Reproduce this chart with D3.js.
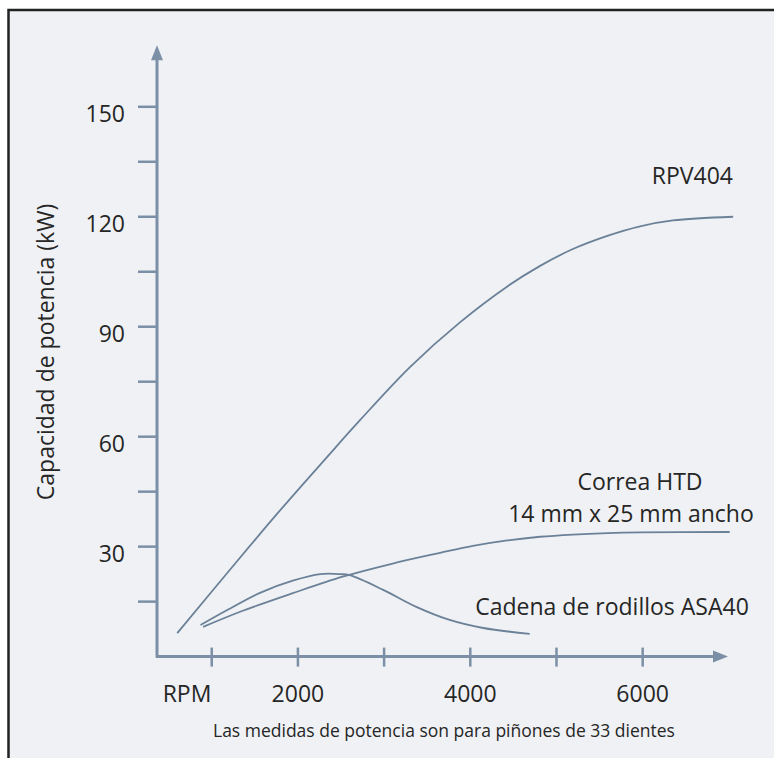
<!DOCTYPE html>
<html>
<head>
<meta charset="utf-8">
<script src="https://cdn.jsdelivr.net/npm/d3@7"></script>
<style>
  html, body { margin:0; padding:0; background:#ffffff; }
  svg { display:block; }
  text { font-family:"Open Sans", sans-serif; fill:#262626; }
</style>
</head>
<body>
<div class="chart"></div>
<script>
// RPV404
var rpvRpm = [600, 1180, 1760, 2340, 2720, 3300, 3880, 4430, 4810, 5190, 5590, 5970, 6350, 7050];
var rpvKw  = [6.4, 22.8, 39.0, 54.5, 64.5, 79.0, 91.2, 101.0, 106.6, 111.2, 114.8, 117.4, 119.0, 120.0];
// Correa HTD 14 mm x 25 mm
var htdRpm = [900, 1360, 1940, 2520, 3100, 3650, 4030, 4430, 4810, 5190, 5590, 5970, 7010];
var htdKw  = [8.1, 12.5, 17.3, 21.8, 25.4, 28.3, 30.2, 31.7, 32.7, 33.3, 33.7, 33.9, 34.0];
// Cadena de rodillos ASA40
var asaRpm = [870, 1180, 1560, 1940, 2260, 2490, 2600, 2990, 3380, 3760, 4150, 4690];
var asaKw  = [8.6, 12.7, 17.4, 20.7, 22.5, 22.5, 22.2, 18.2, 13.5, 10.0, 7.8, 6.2];

var xTicks = [1000, 2000, 3000, 4000, 5000, 6000];
var xTickLabels = [2000, 4000, 6000];
var yTicks = [15, 30, 45, 60, 75, 90, 105, 120, 135, 150];
var yTickLabels = [30, 60, 90, 120, 150];

var W = 774, H = 758;
var axisColor = "#7b90a6", lineColor = "#6b8198";

var svg = d3.select(".chart").append("svg")
  .attr("width", W).attr("height", H);

// frame (only top and left edges fall inside the picture)
svg.append("rect")
  .attr("x", 8.5).attr("y", 10)
  .attr("width", W + 20).attr("height", H + 20)
  .style("fill", "#eff1f4")
  .style("stroke", "#222")
  .style("stroke-width", 2.5);

var x = d3.scaleLinear().domain([365, 6990]).range([157, 728]);
var y = d3.scaleLinear().domain([0, 150]).range([656.6, 106.8]);
var yTop = 166.8;

var g = svg.append("g");

// y axis
g.append("line")
  .attr("x1", x(365)).attr("x2", x(365))
  .attr("y1", y(0) + 1).attr("y2", y(yTop) + 12)
  .style("stroke", axisColor).style("stroke-width", 3);
g.append("path")
  .attr("d", "M" + x(365) + "," + y(yTop) + "l-6,15h12z")
  .style("fill", axisColor);
g.selectAll(".ytick").data(yTicks).enter().append("line")
  .attr("class", "ytick")
  .attr("x1", x(365) - 19).attr("x2", x(365))
  .attr("y1", function(d){ return y(d); })
  .attr("y2", function(d){ return y(d); })
  .style("stroke", axisColor).style("stroke-width", 2.5);
g.selectAll(".ylab").data(yTickLabels).enter().append("text")
  .attr("class", "ylab")
  .attr("x", 125)
  .attr("y", function(d){ return y(d) + 6; })
  .attr("dominant-baseline", "central")
  .style("text-anchor", "end")
  .style("font-size", "23px")
  .text(function(d){ return d; });

// x axis
g.append("line")
  .attr("x1", x(365) - 1).attr("x2", x(6990) - 12)
  .attr("y1", y(0)).attr("y2", y(0))
  .style("stroke", axisColor).style("stroke-width", 3);
g.append("path")
  .attr("d", "M" + x(6990) + "," + y(0) + "l-15,-6v12z")
  .style("fill", axisColor);
g.selectAll(".xtick").data(xTicks).enter().append("line")
  .attr("class", "xtick")
  .attr("x1", function(d){ return x(d); })
  .attr("x2", function(d){ return x(d); })
  .attr("y1", y(0) - 9).attr("y2", y(0) + 10)
  .style("stroke", axisColor).style("stroke-width", 2.5);
g.selectAll(".xlab").data(xTickLabels).enter().append("text")
  .attr("class", "xlab")
  .attr("x", function(d){ return x(d); })
  .attr("y", 693)
  .attr("dominant-baseline", "central")
  .style("text-anchor", "middle")
  .style("font-size", "23px")
  .text(function(d){ return d; });
g.append("text")
  .attr("x", 187).attr("y", 693)
  .attr("dominant-baseline", "central")
  .style("text-anchor", "middle")
  .style("font-size", "23px")
  .text("RPM");

// y title
g.append("text")
  .attr("transform", "translate(45,352) rotate(-90)")
  .attr("dominant-baseline", "central")
  .style("text-anchor", "middle")
  .style("font-size", "23px")
  .text("Capacidad de potencia (kW)");

// curves
var line = d3.line()
  .x(function(d){ return x(d[0]); })
  .y(function(d){ return y(d[1]); })
  .curve(d3.curveCatmullRom.alpha(0.5));

[[rpvRpm, rpvKw], [htdRpm, htdKw], [asaRpm, asaKw]].forEach(function(s){
  g.append("path")
    .datum(d3.zip(s[0], s[1]))
    .attr("d", line)
    .style("fill", "none")
    .style("stroke", lineColor)
    .style("stroke-width", 1.8);
});

// curve labels
g.append("text").attr("x", 733).attr("y", 175)
  .attr("dominant-baseline", "central").style("text-anchor", "end")
  .style("font-size", "23px").text("RPV404");
g.append("text").attr("x", 640).attr("y", 481)
  .attr("dominant-baseline", "central").style("text-anchor", "middle")
  .style("font-size", "23px").text("Correa HTD");
g.append("text").attr("x", 631).attr("y", 513)
  .attr("dominant-baseline", "central").style("text-anchor", "middle")
  .style("font-size", "23px").text("14 mm x 25 mm ancho");
g.append("text").attr("x", 612).attr("y", 606)
  .attr("dominant-baseline", "central").style("text-anchor", "middle")
  .style("font-size", "23px").text("Cadena de rodillos ASA40");

// note
g.append("text").attr("x", 444).attr("y", 730)
  .attr("dominant-baseline", "central").style("text-anchor", "middle")
  .style("font-size", "17.5px")
  .text("Las medidas de potencia son para piñones de 33 dientes");
</script>
</body>
</html>
